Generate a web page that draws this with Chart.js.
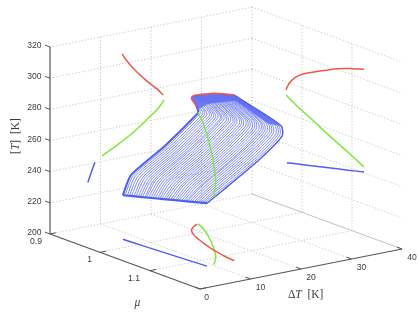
<!DOCTYPE html>
<html>
<head>
<meta charset="utf-8">
<style>html,body{margin:0;padding:0;background:#fff}canvas{display:block;filter:blur(0.35px)}</style>
<script src="https://cdn.jsdelivr.net/npm/chart.js@4"></script>
</head>
<body>
<canvas id="c" width="419" height="318"></canvas>
<script>
const tTicks = [200, 220, 240, 260, 280, 300, 320];
const muTicks = [0.9, 1, 1.1, 1.2];
const muTickLabels = ['0.9', '1', '1.1'];
const dTTicks = [0, 10, 20, 30, 40];

const redT = [274.8, 279.5, 284.8, 289, 292.9, 297, 300.5, 304, 306.4];
const redDeltaT = [22.4, 21.2, 19.5, 18.3, 17.2, 16.2, 15.4, 14.7, 14.3];
const redMu = [0.968, 0.974, 0.986, 1.002, 1.024, 1.049, 1.071, 1.1, 1.124];

const greenT = [271.6, 267.1, 261.9, 254.7, 248.9, 243.6];
const greenDeltaT = [22.6, 21.5, 19.5, 16.5, 13.5, 10.3];
const greenMu = [0.968, 0.99, 1.02, 1.06, 1.095, 1.124];

const blueT = [228.3, 231.1, 234.5, 237.9, 240.4];
const blueDeltaT = [7.5, 7.8, 8.2, 8.6, 8.9];
const blueMu = [0.97, 1.006, 1.049, 1.092, 1.124];

// surface: one curve per mu value; each array below is one knot along all curves
const surfaceMu = [.970,.974,.978,.982,.986,.990,.994,.998,1.002,1.006,1.010,1.013,1.017,1.021,1.025,1.029,1.033,1.037,1.041,1.045,1.049,1.053,1.057,1.061,1.065,1.069,1.073,1.077,1.081,1.085,1.088,1.092,1.096,1.100,1.104,1.108,1.112,1.116,1.120,1.124];
const knot0DeltaT = [7.5,7.5,7.6,7.6,7.6,7.7,7.7,7.8,7.8,7.8,7.9,7.9,7.9,8.0,8.0,8.0,8.1,8.1,8.1,8.2,8.2,8.2,8.3,8.3,8.4,8.4,8.4,8.5,8.5,8.5,8.6,8.6,8.6,8.7,8.7,8.7,8.8,8.8,8.8,8.9];
const knot0T = [228.3,228.6,228.9,229.2,229.5,229.9,230.2,230.5,230.8,231.1,231.4,231.7,232.0,232.3,232.6,232.9,233.2,233.6,233.9,234.2,234.5,234.8,235.1,235.4,235.7,236.0,236.3,236.6,236.9,237.3,237.6,237.9,238.2,238.5,238.8,239.1,239.4,239.7,240.0,240.4];
const knot1DeltaT = [9.1,9.2,9.2,9.3,9.4,9.5,9.5,9.6,9.7,9.7,9.8,9.9,10.0,10.0,10.1,10.2,10.2,10.3,10.4,10.5,10.5,10.6,10.7,10.7,10.8,10.9,11.0,11.0,11.1,11.2,11.2,11.3,11.4,11.5,11.5,11.6,11.7,11.7,11.8,11.9];
const knot1T = [240.2,240.4,240.5,240.7,240.8,241.0,241.1,241.3,241.4,241.6,241.8,241.9,242.1,242.2,242.4,242.5,242.7,242.9,243.0,243.2,243.3,243.5,243.6,243.8,243.9,244.1,244.3,244.4,244.6,244.7,244.9,245.0,245.2,245.3,245.5,245.7,245.8,246.0,246.1,246.3];
const knot2DeltaT = [15.8,15.9,16.0,16.1,16.2,16.3,16.4,16.4,16.5,16.6,16.7,16.8,16.9,17.0,17.1,17.2,17.3,17.4,17.4,17.5,17.6,17.7,17.8,17.9,18.0,18.1,18.2,18.3,18.4,18.5,18.5,18.6,18.7,18.8,18.9,19.0,19.1,19.2,19.3,19.4];
const knot2T = [254.6,254.8,255.0,255.2,255.4,255.6,255.7,255.9,256.1,256.3,256.5,256.7,256.9,257.1,257.3,257.5,257.6,257.8,258.0,258.2,258.4,258.6,258.8,259.0,259.2,259.4,259.5,259.7,259.9,260.1,260.3,260.5,260.7,260.9,261.1,261.3,261.4,261.6,261.8,262.0];
const knot3DeltaT = [22.4,22.4,22.5,22.5,22.5,22.6,22.6,22.6,22.7,22.7,22.8,22.8,22.8,22.9,22.9,22.9,23.0,23.0,23.0,23.1,23.1,23.1,23.2,23.2,23.2,23.3,23.3,23.3,23.4,23.4,23.5,23.5,23.5,23.6,23.6,23.6,23.7,23.7,23.7,23.8];
const knot3T = [271.5,271.6,271.6,271.7,271.8,271.8,271.9,271.9,272.0,272.1,272.1,272.2,272.3,272.3,272.4,272.5,272.5,272.6,272.7,272.7,272.8,272.8,272.9,273.0,273.0,273.1,273.2,273.2,273.3,273.4,273.4,273.5,273.5,273.6,273.7,273.7,273.8,273.9,273.9,274.0];
const knot4DeltaT = [22.4,22.4,22.5,22.5,22.5,22.6,22.6,22.6,22.6,22.7,22.7,22.7,22.8,22.8,22.8,22.9,22.9,22.9,22.9,23.0,23.0,23.0,23.1,23.1,23.1,23.1,23.2,23.2,23.2,23.3,23.3,23.3,23.4,23.4,23.4,23.4,23.5,23.5,23.5,23.6];
const knot4T = [272.8,273.0,273.2,273.4,273.6,273.8,274.0,274.2,274.4,274.6,274.8,275.0,275.2,275.4,275.6,275.8,276.0,276.2,276.4,276.6,276.8,277.0,277.2,277.4,277.6,277.8,278.0,278.2,278.4,278.6,278.8,279.0,279.2,279.4,279.6,279.8,280.0,280.2,280.4,280.6];
const knot5DeltaT = [22.3,22.2,22.0,21.9,21.7,21.6,21.5,21.3,21.2,21.0,20.9,20.8,20.6,20.5,20.3,20.2,20.1,19.9,19.8,19.6,19.5,19.4,19.2,19.1,18.9,18.8,18.7,18.5,18.4,18.2,18.1,18.0,17.8,17.7,17.5,17.4,17.3,17.1,17.0,16.8];
const knot5T = [274.1,275.1,276.0,277.0,277.9,278.9,279.8,280.8,281.7,282.5,283.1,283.8,284.5,285.1,285.8,286.4,287.1,287.7,288.4,289.0,289.7,290.3,291.0,291.6,292.3,293.0,293.6,294.3,294.9,295.6,296.2,296.6,296.9,297.3,297.6,298.0,298.3,298.7,299.1,299.6];
const knot6DeltaT = [22.0,21.2,20.6,20.1,19.5,19.2,18.9,18.6,18.3,18.1,17.9,17.8,17.5,17.3,17.2,17.0,16.9,16.7,16.5,16.4,16.2,16.1,15.9,15.8,15.6,15.5,15.4,15.3,15.2,15.1,15.0,14.9,14.8,14.7,14.6,14.6,14.5,14.4,14.4,14.3];
const knot6T = [276.4,279.5,281.3,283.0,284.8,285.9,286.9,288.0,289.0,289.7,290.4,291.0,291.7,292.4,293.1,293.8,294.4,295.0,295.7,296.3,296.9,297.6,298.2,298.9,299.5,300.2,300.7,301.2,301.7,302.2,302.6,303.0,303.5,304.0,304.4,304.8,305.2,305.6,306.0,306.4];

const knotsDeltaT = [knot0DeltaT, knot1DeltaT, knot2DeltaT, knot3DeltaT, knot4DeltaT, knot5DeltaT, knot6DeltaT];
const knotsT = [knot0T, knot1T, knot2T, knot3T, knot4T, knot5T, knot6T];

// oblique view of the 3-D box, fixed by its drawn axes
function project(dT, mu, T) {
  return {
    x: 50 + (mu - 0.9) * 500 + dT * 5.05,
    y: 234 + (mu - 0.9) * 183.3 - dT - (T - 200) * 1.558
  };
}
const MU0 = 0.9, MU1 = 1.2, DT1 = 40, T0 = 200, T1 = 320;

const RED = '#ea5a48', GREEN = '#7fe83a', BLUE = '#4f60f0';
const sets = [];
function path(pts, color, width, extra) {
  sets.push(Object.assign({ data: pts, borderColor: color, borderWidth: width, showLine: true, pointRadius: 0, tension: 0.4, fill: false }, extra || {}));
}
function curve3d(dts, mus, ts, color, width) {
  path(dts.map((d, i) => project(d, mus[i], ts[i])), color, width);
}
function wallLeft(dts, ts, color) { path(dts.map((d, i) => project(d, MU0, ts[i])), color, 1.5); }
function wallRight(mus, ts, color) { path(mus.map((m, i) => project(DT1, m, ts[i])), color, 1.5); }
function floorPlane(dts, mus, color) { path(dts.map((d, i) => project(d, mus[i], T0)), color, 1.5); }

// earlier entries are painted on top
curve3d(greenDeltaT, greenMu, greenT, GREEN, 1.4);
curve3d(redDeltaT, redMu, redT, RED, 1.6);
curve3d(blueDeltaT, blueMu, blueT, BLUE, 2.2);
path(knotsDeltaT.map((arr, k) => project(arr[0], surfaceMu[0], knotsT[k][0])), BLUE, 2, { tension: 0.2 });
path(knotsDeltaT.map((arr, k) => project(arr[39], surfaceMu[39], knotsT[k][39])), BLUE, 1.4, { tension: 0.2 });
surfaceMu.forEach((mu, i) => {
  path(knotsDeltaT.map((arr, k) => project(arr[i], mu, knotsT[k][i])), '#5f6df3', 0.8, { tension: 0.25 });
});
// crowded upper band of the surface, where its curves run together
const bandIdx = surfaceMu.map((_, i) => i);
const bandPts = []
  .concat(bandIdx.map(i => project(knot6DeltaT[i], surfaceMu[i], knot6T[i])))
  .concat([project(knot5DeltaT[39], surfaceMu[39], knot5T[39]), project(knot4DeltaT[39], surfaceMu[39], knot4T[39]), project(knot4DeltaT[33], surfaceMu[33], knot4T[33])])
  .concat(bandIdx.slice(0, 31).reverse().map(i => project(knot5DeltaT[i], surfaceMu[i], knot5T[i])));
path(bandPts, BLUE, 0.1, { tension: 0, fill: 'shape', backgroundColor: 'rgba(80,96,240,0.75)' });

wallLeft(redDeltaT, redT, RED); wallLeft(greenDeltaT, greenT, GREEN); wallLeft(blueDeltaT, blueT, BLUE);
wallRight(redMu, redT, RED); wallRight(greenMu, greenT, GREEN); wallRight(blueMu, blueT, BLUE);
floorPlane(redDeltaT, redMu, RED); floorPlane(greenDeltaT, greenMu, GREEN); floorPlane(blueDeltaT, blueMu, BLUE);

// box axes and ticks
const AXIS = '#555555';
function seg(a, b, color, width, dash) {
  path([a, b], color, width, { tension: 0, borderDash: dash || [] });
}
seg(project(0, MU0, T0), project(0, MU0, T1), AXIS, 1.2);
seg(project(0, MU0, T0), project(0, MU1, T0), AXIS, 1.2);
seg(project(0, MU1, T0), project(DT1, MU1, T0), AXIS, 1.2);
tTicks.forEach(T => seg(project(0, MU0, T), project(0, MU0 - 0.01, T), AXIS, 1));
muTicks.forEach(m => seg(project(0, m, T0), project(1.2, m, T0), AXIS, 1));
dTTicks.forEach(d => seg(project(d, MU1, T0), project(d, MU1 - 0.01, T0), AXIS, 1));
seg(project(DT1, MU0, T0), project(DT1, MU1, T0), '#c0c0c0', 1);

// dotted box grid
const GRID = '#c6c6c6', DOT = [1.2, 2];
tTicks.forEach(T => {
  seg(project(0, MU0, T), project(DT1, MU0, T), GRID, 1, DOT);
  if (T > T0) seg(project(DT1, MU0, T), project(DT1, MU1, T), GRID, 1, DOT);
});
dTTicks.slice(1).forEach(d => {
  seg(project(d, MU0, T0), project(d, MU0, T1), GRID, 1, DOT);
  if (d < DT1) seg(project(d, MU0, T0), project(d, MU1, T0), GRID, 1, DOT);
});
muTicks.slice(1, 3).forEach(m => {
  seg(project(DT1, m, T0), project(DT1, m, T1), GRID, 1, DOT);
  seg(project(0, m, T0), project(DT1, m, T0), GRID, 1, DOT);
});

const TEXT = '#3c3c3c';
const labelsPlugin = {
  id: 'boxLabels',
  afterDraw(chart) {
    const c = chart.ctx, sx = chart.scales.x, sy = chart.scales.y;
    const at = p => ({ x: sx.getPixelForValue(p.x), y: sy.getPixelForValue(p.y) });
    c.save();
    c.fillStyle = TEXT;
    c.font = '8.6px "Liberation Sans"';
    c.textBaseline = 'middle';
    c.textAlign = 'right';
    tTicks.forEach(T => {
      const p = at(project(0, MU0, T));
      c.fillText(String(T), p.x - 8.5, p.y - 1.3);
    });
    muTickLabels.forEach((lab, i) => {
      const p = at(project(0, muTicks[i], T0));
      c.fillText(lab, p.x - (i === 2 ? 10 : 8), p.y + 7.5);
    });
    c.textAlign = 'center';
    dTTicks.forEach((d, i) => {
      const p = at(project(d, MU1, T0));
      c.fillText(String(d), p.x + (i === 0 ? 6.7 : 10), p.y + 8.5);
    });
    function runs(parts, x, y) {
      let w = 0;
      parts.forEach(r => { c.font = r[1]; w += c.measureText(r[0]).width; });
      let cx = x - w / 2;
      c.textAlign = 'left';
      parts.forEach(r => { c.font = r[1]; c.fillText(r[0], cx, y); cx += c.measureText(r[0]).width; });
    }
    const RM = '11.5px "Liberation Serif"', IT = 'italic 11.5px "Liberation Serif"';
    runs([['\u0394', RM], ['T', IT], ['  [K]', RM]], 305.7, 294.7);
    runs([['\u03bc', IT]], 137.3, 302.7);
    c.translate(16, 136);
    c.rotate(-Math.PI / 2);
    runs([['[', RM], ['T', IT], [']  [K]', RM]], 0, 0);
    c.restore();
  }
};

new Chart(document.getElementById('c'), {
  type: 'scatter',
  data: { datasets: sets },
  plugins: [labelsPlugin],
  options: {
    responsive: false,
    animation: false,
    layout: { padding: 0 },
    plugins: { legend: { display: false }, tooltip: { enabled: false } },
    scales: {
      x: { type: 'linear', display: false, min: 0, max: 419 },
      y: { type: 'linear', display: false, min: 0, max: 318, reverse: true }
    }
  }
});
</script>
</body>
</html>
